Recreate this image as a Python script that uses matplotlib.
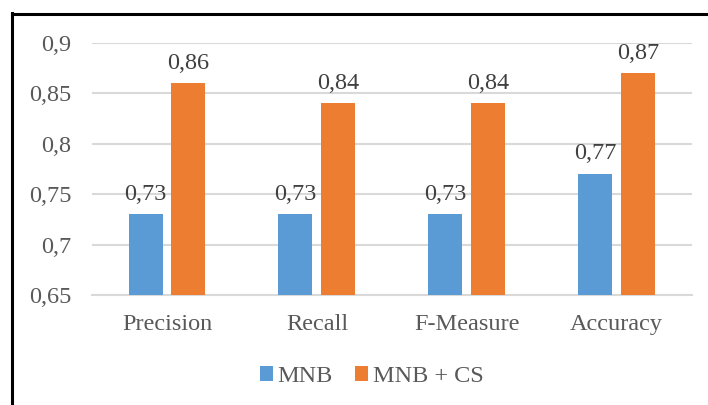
import numpy as np
import matplotlib
matplotlib.use('agg')
import matplotlib.pyplot as plt
from matplotlib.lines import Line2D

plt.rcParams['font.family'] = ['Liberation Serif', 'DejaVu Serif']

categories = ['Precision', 'Recall', 'F-Measure', 'Accuracy']
mnb = [0.73, 0.73, 0.73, 0.77]
mnb_cs = [0.86, 0.84, 0.84, 0.87]
series_names = ['MNB', 'MNB + CS']
yticks = [0.65, 0.7, 0.75, 0.8, 0.85, 0.9]

blue = '#5B9BD5'
orange = '#ED7D31'
txt = '#595959'
fs = 17.5

fig = plt.figure(figsize=(7.08, 4.05), dpi=100)
ax = fig.add_axes([0.130, 0.2716, 0.847, 0.6222])

x = np.arange(len(categories))
w = 0.227
off = 0.143
b1 = ax.bar(x - off, mnb, w, color=blue, label=series_names[0], zorder=3)
b2 = ax.bar(x + off, mnb_cs, w, color=orange, label=series_names[1], zorder=3)

for bars, vals in ((b1, mnb), (b2, mnb_cs)):
    for r, v in zip(bars, vals):
        ax.annotate(('%.2f' % v).replace('.', ','),
                    (r.get_x() + r.get_width() / 2, v),
                    xytext=(0, 7), textcoords='offset points',
                    ha='center', va='bottom', fontsize=fs, color='#404040')

ax.set_ylim(0.65, 0.9)
ax.set_xlim(-0.5, 3.5)
ax.set_yticks(yticks)
ax.set_yticklabels([('%g' % t).replace('.', ',') for t in yticks])
ax.set_xticks(x)
ax.set_xticklabels(categories)
ax.tick_params(axis='both', length=0, labelsize=fs, colors=txt)
ax.tick_params(axis='y', pad=15)
ax.tick_params(axis='x', pad=14)
ax.yaxis.grid(True, color='#D9D9D9', linewidth=1.5, zorder=0)
for s in ['top', 'right', 'left']:
    ax.spines[s].set_visible(False)
ax.spines['bottom'].set_color('#D9D9D9')
ax.spines['bottom'].set_linewidth(1.5)

leg = fig.legend(handles=[b1, b2], loc='center', bbox_to_anchor=(0.525, 0.07),
                 ncol=2, frameon=False, fontsize=fs, handlelength=0.55,
                 handleheight=0.55, handletextpad=0.2, columnspacing=0.9)
for t in leg.get_texts():
    t.set_color(txt)

# outer border (only top and left visible in the crop)
fig.add_artist(Line2D([11.5 / 708, 1], [1 - 14 / 405, 1 - 14 / 405],
                      transform=fig.transFigure, color='black', linewidth=2.2))
fig.add_artist(Line2D([12 / 708, 12 / 708], [0, 1 - 13 / 405],
                      transform=fig.transFigure, color='black', linewidth=2.2))

fig.savefig('out.png', dpi=100)
